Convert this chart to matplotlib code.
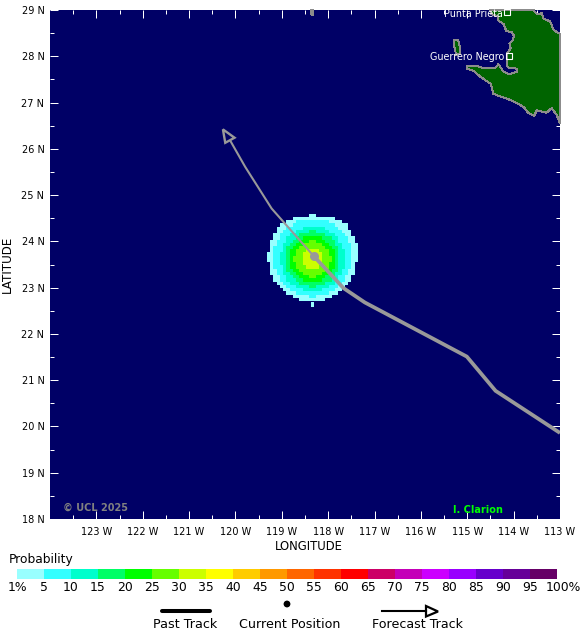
import numpy as np
import matplotlib
matplotlib.use("Agg")
import matplotlib.pyplot as plt
from matplotlib.colors import ListedColormap, BoundaryNorm
from matplotlib.patches import Circle, Polygon
from matplotlib.path import Path
from matplotlib.transforms import ScaledTranslation

NAVY = "#000066"
LAND = "#006400"
GRAY = "#8c8c8c"
TRACK = "#999999"

# probability colour scale
prob_edges = [1, 5, 10, 15, 20, 25, 30, 35, 40, 45, 50, 55, 60, 65, 70, 75, 80, 85, 90, 95, 100]
prob_labels = ["1%", "5", "10", "15", "20", "25", "30", "35", "40", "45", "50", "55", "60", "65", "70",
               "75", "80", "85", "90", "95", "100%"]
prob_colors = ["#99ffff", "#33ffff", "#00ffcc", "#00ff66", "#00ff00", "#66ff00", "#ccff00", "#ffff00",
               "#ffcc00", "#ff9900", "#ff6600", "#ff3300", "#ff0000", "#cc0066", "#c400b8", "#cc00ff",
               "#9900ff", "#6600cc", "#660099", "#660066"]

# strike-probability contours: radius in degrees at 16 bearings clockwise from north
blob_center_lon = -118.34
blob_center_lat = 23.62
contour_levels = [1, 5, 10, 15, 20, 25, 30]
contour_radii = [
    [.95, 1.00, 1.04, 1.02, .97, .95, .93, .93, .94, .93, .93, .95, .97, .99, 1.02, .98],
    [.87, .89, .90, .88, .84, .84, .83, .83, .82, .82, .83, .84, .84, .86, .88, .87],
    [.71, .72, .71, .71, .71, .71, .71, .71, .71, .71, .71, .70, .69, .70, .71, .71],
    [.61, .61, .61, .61, .60, .61, .61, .61, .61, .61, .60, .60, .59, .60, .60, .61],
    [.50, .50, .50, .50, .50, .50, .50, .50, .50, .50, .50, .50, .50, .50, .50, .50],
    [.40, .40, .40, .40, .40, .40, .40, .40, .40, .40, .40, .40, .40, .40, .40, .40],
    [.22, .22, .22, .22, .22, .22, .22, .22, .22, .22, .22, .22, .22, .22, .22, .22],
]
nub_lon = [-118.38, -118.30, -118.30, -118.38]
nub_lat = [22.70, 22.70, 22.58, 22.58]

# tracks
past_lon = [-113.00, -114.39, -115.01, -117.21, -117.67, -118.31]
past_lat = [19.86, 20.77, 21.51, 22.68, 22.99, 23.68]
fcst_lon = [-118.31, -119.22, -119.79, -120.12]
fcst_lat = [23.68, 24.71, 25.61, 26.19]
head_lon = [-120.27, -120.22, -120.02]
head_lat = [26.42, 26.13, 26.24]

# coastline
baja_lon = [-114.52, -114.47, -114.35, -114.33, -114.22, -114.16, -114.04, -113.99, -114.02, -114.09, -114.06,
            -114.14, -114.15, -114.13, -113.93, -113.93, -114.09, -114.22, -114.33, -114.40, -114.65, -114.83,
            -115.01, -115.00, -114.87, -114.72, -114.62, -114.49, -114.44, -114.29, -114.11, -113.93, -113.78,
            -113.68, -113.56, -113.50, -113.29, -113.18, -113.07, -113.00, -113.00, -113.14, -113.21, -113.36,
            -113.39, -113.50, -113.57]
baja_lat = [29.00, 28.91, 28.86, 28.77, 28.70, 28.55, 28.52, 28.44, 28.35, 28.28, 28.17,
            28.07, 27.89, 27.76, 27.73, 27.67, 27.61, 27.67, 27.83, 27.74, 27.74, 27.80,
            27.80, 27.73, 27.69, 27.56, 27.49, 27.40, 27.19, 27.13, 27.07, 26.99, 26.90,
            26.77, 26.71, 26.83, 26.78, 26.88, 26.73, 26.55, 28.48, 28.57, 28.75, 28.82,
            28.93, 28.91, 29.00]
cedros_lon = [-115.28, -115.20, -115.17, -115.15, -115.24, -115.28]
cedros_lat = [28.36, 28.36, 28.25, 28.05, 28.03, 28.21]
guadalupe_lon = [-118.37, -118.32, -118.33, -118.36]
guadalupe_lat = [29.00, 29.00, 28.90, 28.90]

cities = ["Punta Prieta", "Guerrero Negro"]
city_lon = [-114.14, -114.11]
city_lat = [28.95, 28.00]
city_dy = [-1.2, -0.4]

lon_ticks = [-123, -122, -121, -120, -119, -118, -117, -116, -115, -114, -113]
lon_labels = ["123 W", "122 W", "121 W", "120 W", "119 W", "118 W", "117 W", "116 W", "115 W", "114 W", "113 W"]
lat_ticks = [18, 19, 20, 21, 22, 23, 24, 25, 26, 27, 28, 29]
lat_labels = ["18 N", "19 N", "20 N", "21 N", "22 N", "23 N", "24 N", "25 N", "26 N", "27 N", "28 N", "29 N"]
lon_minor = [-123.5, -122.5, -121.5, -120.5, -119.5, -118.5, -117.5, -116.5, -115.5, -114.5, -113.5]
lat_minor = [18.5, 19.5, 20.5, 21.5, 22.5, 23.5, 24.5, 25.5, 26.5, 27.5, 28.5]

W, H = 580, 639
fig = plt.figure(figsize=(W / 100, H / 100), dpi=100, facecolor="white")


def box(x0, y0, x1, y1):
    return [x0 / W, 1 - y1 / H, (x1 - x0) / W, (y1 - y0) / H]


ax = fig.add_axes(box(50, 10, 560, 519), facecolor=NAVY)
ax.set_xlim(-124, -113)
ax.set_ylim(18, 29)

# probability contours rasterised on the product's coarse grid, lowest first
bearings = np.deg2rad(np.arange(16) * 22.5)
cell = 0.07
lon_edges = blob_center_lon + np.arange(-16, 17) * cell
lat_edges = blob_center_lat + np.arange(-16, 17) * cell
lon_mid = 0.5 * (lon_edges[:-1] + lon_edges[1:])
lat_mid = 0.5 * (lat_edges[:-1] + lat_edges[1:])
LO, LA = np.meshgrid(lon_mid, lat_mid)
pts = np.column_stack([LO.ravel(), LA.ravel()])
field = np.full(LO.shape, -1)
for level, radii in zip(contour_levels, contour_radii):
    r = np.array(radii)
    xs = blob_center_lon + r * np.sin(bearings)
    ys = blob_center_lat + r * np.cos(bearings)
    inside = Path(np.column_stack([xs, ys])).contains_points(pts).reshape(LO.shape)
    field[inside] = prob_edges.index(level)
cmap = ListedColormap(prob_colors)
cmap.set_bad((0, 0, 0, 0))
norm = BoundaryNorm(np.arange(21) - 0.5, 20)
ax.pcolormesh(lon_edges, lat_edges, np.ma.masked_less(field, 0), cmap=cmap, norm=norm, zorder=2)
ax.fill(nub_lon, nub_lat, color=prob_colors[0], lw=0, antialiased=False, zorder=1.9)

# land
for lons, lats in [(baja_lon, baja_lat), (cedros_lon, cedros_lat), (guadalupe_lon, guadalupe_lat)]:
    ax.fill(lons, lats, facecolor=LAND, edgecolor=GRAY, lw=0.7, zorder=3, clip_on=False, antialiased=False)

# tracks
ax.plot(past_lon, past_lat, color=TRACK, lw=2.7, solid_joinstyle="miter", solid_capstyle="butt", zorder=5)
ax.plot(fcst_lon, fcst_lat, color=TRACK, lw=1.5, zorder=5)
ax.add_patch(Polygon(list(zip(head_lon, head_lat)), closed=True, facecolor=NAVY, edgecolor=TRACK, lw=1.7, zorder=6))
ax.plot(past_lon[-1], past_lat[-1], "o", color=TRACK, ms=6.5, mew=0, zorder=7)

# ticks
ax.set_xticks(lon_ticks)
ax.set_xticklabels(lon_labels, fontsize=7)
ax.set_yticks(lat_ticks)
ax.set_yticklabels(lat_labels, fontsize=7)
ax.set_xticks(lon_minor, minor=True)
ax.set_yticks(lat_minor, minor=True)
ax.tick_params(which="major", direction="in", color="white", width=0.72, length=5.8,
               top=True, right=True, bottom=True, left=True)
ax.tick_params(axis="x", which="major", pad=6)
ax.tick_params(axis="y", which="major", pad=4)
ax.tick_params(which="minor", direction="in", color="white", width=0.72, length=2.9,
               top=True, right=True, bottom=True, left=True)
ax.set_axisbelow(False)
for s in ax.spines.values():
    s.set_visible(False)

ax.set_xlabel("LONGITUDE", fontsize=8.4)
ax.set_ylabel("LATITUDE", fontsize=8.6)
ax.xaxis.set_label_coords((309 - 50) / 510, -(540 - 519) / 509)
ax.yaxis.set_label_coords(-(50 - 14) / 510, (519 - 264) / 509)

# cities
for name, lo, la, dy in zip(cities, city_lon, city_lat, city_dy):
    ax.plot(lo, la, "s", ms=4.4, mfc="none", mec="white", mew=0.8, zorder=8, clip_on=False)
    ax.annotate(name, (lo, la), xytext=(-3, dy), textcoords="offset points", ha="right", va="center",
                color="white", fontsize=6.9, zorder=8)

ax.text(-123.72, 18.24, "\u00a9 UCL 2025", color="#808080", fontsize=7, fontweight="bold", va="center")
ax.text(-115.31, 18.19, "I. Clarion", color="#00ff00", fontsize=7, fontweight="bold", va="center")

# colour bar
cax = fig.add_axes(box(17, 569, 557, 579))
cax.pcolormesh(np.arange(21), [0, 1], np.arange(20).reshape(1, 20), cmap=cmap, norm=norm)
cax.set_xticks(np.arange(21))
cax.set_xticklabels(prob_labels, fontsize=8.9)
cax.set_yticks([])
cax.tick_params(axis="x", length=0, pad=1.5)
for s in cax.spines.values():
    s.set_visible(False)
last = cax.get_xticklabels()[-1]
last.set_transform(last.get_transform() + ScaledTranslation(6 / 100, 0, fig.dpi_scale_trans))

# legend overlay, pixel coordinates
ov = fig.add_axes([0, 0, 1, 1], facecolor="none")
ov.set_xlim(0, W)
ov.set_ylim(H, 0)
ov.axis("off")
ov.text(9, 560, "Probability", fontsize=8.8, va="center", ha="left")
ov.plot([162, 210], [611, 611], color="black", lw=2.9, solid_capstyle="round")
ov.text(185, 624, "Past Track", fontsize=9.2, ha="center", va="center")
ov.add_patch(Circle((287, 604), 3.4, color="black", lw=0))
ov.text(289.5, 624, "Current Position", fontsize=9.1, ha="center", va="center")
ov.plot([382, 426], [611, 611], color="black", lw=1.5)
ov.add_patch(Polygon([(426, 606), (438, 611.5), (426, 616.5)], closed=True, facecolor="white",
                     edgecolor="black", lw=1.6))
ov.text(417.5, 624, "Forecast Track", fontsize=9.1, ha="center", va="center")

fig.savefig("out.png", dpi=100)
